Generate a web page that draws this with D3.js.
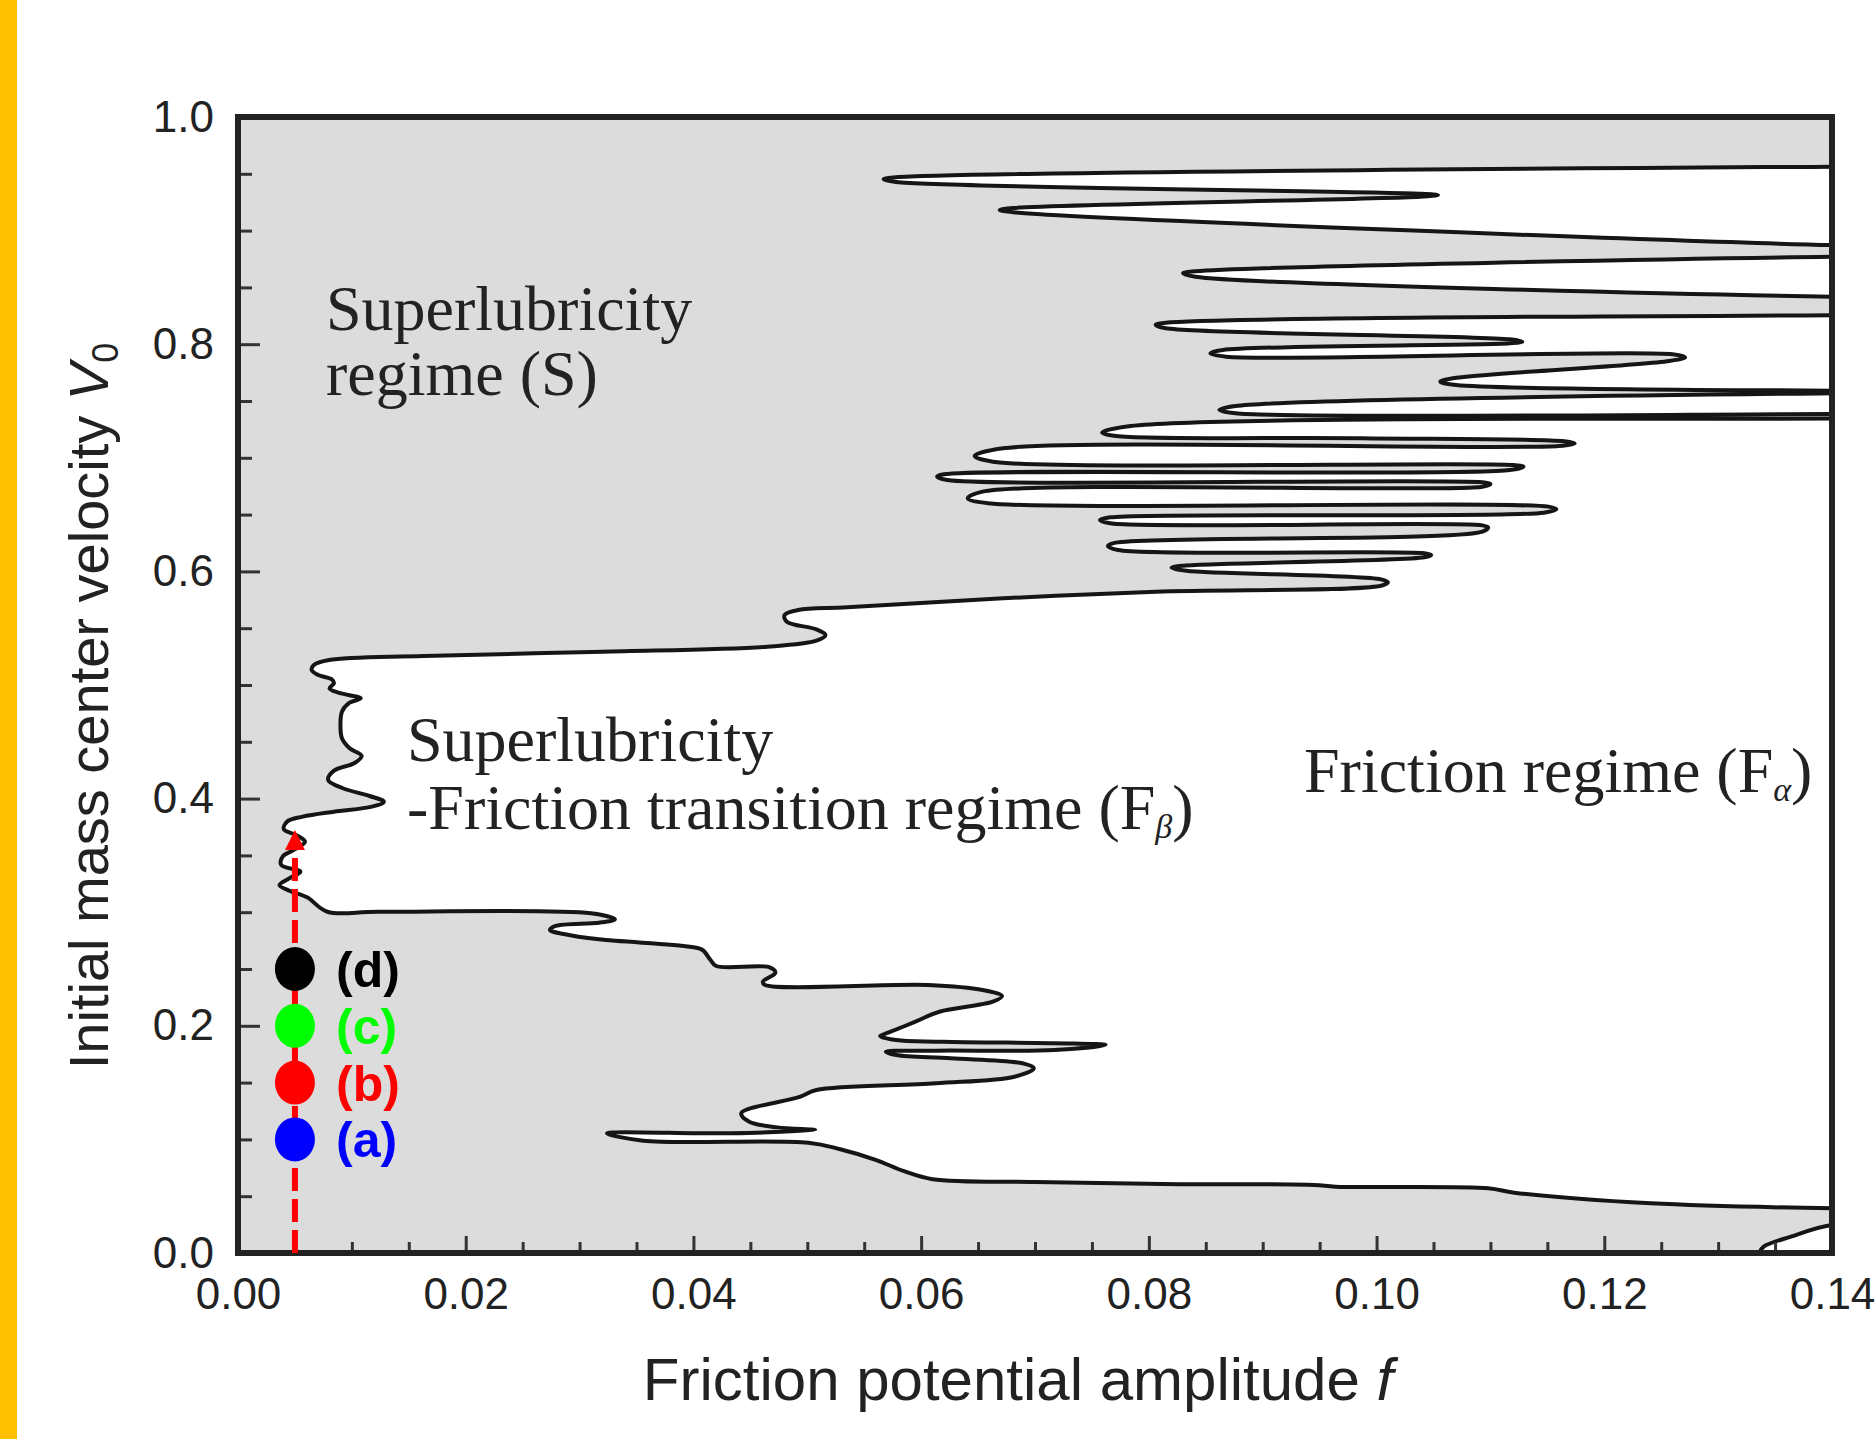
<!DOCTYPE html>
<html>
<head>
<meta charset="utf-8">
<script src="https://cdn.jsdelivr.net/npm/d3@7"></script>
<style>
  body { margin: 0; background: #fff; }
  svg text { fill: #222; }
</style>
</head>
<body>
<div id="chart"></div>
<script>
// boundary between the superlubricity (grey) and friction (white) regimes,
// traced from the top right down to the bottom right, as [f, V0]
var boundary = [
  [0.146, 0.9565], [0.1400, 0.9563], [0.0578, 0.9469], [0.0567, 0.9452], [0.0578, 0.9428],
  [0.1038, 0.9325], [0.1054, 0.9313], [0.1038, 0.9298], [0.0681, 0.9199], [0.0669, 0.9181],
  [0.0681, 0.9161], [0.1400, 0.8873], [0.146, 0.8872], [0.146, 0.8771], [0.1400, 0.8770],
  [0.0841, 0.8642], [0.0830, 0.8624], [0.0841, 0.8594], [0.1400, 0.8418], [0.146, 0.8417],
  [0.146, 0.8256], [0.1400, 0.8255], [0.0815, 0.8189], [0.0806, 0.8169], [0.0815, 0.8140],
  [0.1117, 0.8043], [0.1128, 0.8022], [0.1117, 0.8008], [0.0865, 0.7949], [0.0854, 0.7920],
  [0.0868, 0.7890], [0.1260, 0.7911], [0.1271, 0.7885], [0.1257, 0.7852], [0.1067, 0.7700],
  [0.1056, 0.7670], [0.1070, 0.7641], [0.1400, 0.7591], [0.146, 0.7590], [0.146, 0.7569],
  [0.1400, 0.7568], [0.0876, 0.7456], [0.0862, 0.7421], [0.0876, 0.7392], [0.1400, 0.7386],
  [0.146, 0.7385], [0.146, 0.7346], [0.1400, 0.7345], [0.0784, 0.7280], [0.0759, 0.7221],
  [0.0771, 0.7192], [0.0986, 0.7172], [0.1165, 0.7145], [0.1174, 0.7127], [0.1160, 0.7104],
  [0.0672, 0.7084], [0.0647, 0.7016], [0.0663, 0.6966], [0.1120, 0.6937], [0.1129, 0.6922],
  [0.1115, 0.6890], [0.0620, 0.6855], [0.0614, 0.6834], [0.0623, 0.6805], [0.1093, 0.6784],
  [0.1100, 0.6769], [0.1093, 0.6746], [0.0654, 0.6702], [0.0641, 0.6643], [0.0659, 0.6600],
  [0.1151, 0.6570], [0.1158, 0.6547], [0.1147, 0.6517], [0.0766, 0.6476], [0.0757, 0.6452],
  [0.0766, 0.6423], [0.1093, 0.6405], [0.1098, 0.6388], [0.1093, 0.6350], [0.0771, 0.6253],
  [0.0764, 0.6224], [0.0773, 0.6188], [0.1042, 0.6159], [0.1048, 0.6144], [0.1042, 0.6124],
  [0.0829, 0.6050], [0.0820, 0.6033], [0.0833, 0.6006], [0.1004, 0.5930], [0.1010, 0.5904],
  [0.1004, 0.5874], [0.0806, 0.5821], [0.0672, 0.5763], [0.0535, 0.5684], [0.0492, 0.5660],
  [0.0480, 0.5616], [0.0482, 0.5557], [0.0508, 0.5490], [0.0516, 0.5440], [0.0508, 0.5390],
  [0.0465, 0.5337], [0.0320, 0.5293], [0.0163, 0.5255], [0.0080, 0.5220], [0.00666, 0.5176],
  [0.00647, 0.5132], [0.00705, 0.5088], [0.00823, 0.5050], [0.00843, 0.5015], [0.00804, 0.4971],
  [0.00882, 0.4932], [0.01078, 0.4883], [0.0098, 0.4844], [0.00913, 0.4765], [0.0090, 0.4633],
  [0.00913, 0.4531], [0.0098, 0.4443], [0.01086, 0.4375], [0.0102, 0.4311], [0.00843, 0.4246],
  [0.00792, 0.4164], [0.00921, 0.4091], [0.01156, 0.4023], [0.01281, 0.3973], [0.01176, 0.3929],
  [0.00843, 0.3885], [0.00568, 0.3841], [0.0043, 0.3797], [0.00403, 0.3730], [0.00509, 0.3680],
  [0.00588, 0.3621], [0.0049, 0.3548], [0.00392, 0.3489], [0.0038, 0.3415], [0.00548, 0.3357],
  [0.0045, 0.3298], [0.00364, 0.3239], [0.0045, 0.3189], [0.00607, 0.3131], [0.00784, 0.3004],
  [0.01235, 0.3004], [0.0310, 0.2990], [0.0331, 0.2937], [0.0317, 0.2908], [0.0279, 0.2879],
  [0.0274, 0.2843], [0.0286, 0.2808], [0.0317, 0.2761], [0.0397, 0.2696], [0.0408, 0.2667],
  [0.0415, 0.2579], [0.0420, 0.2526], [0.0467, 0.2515], [0.0472, 0.2467], [0.0461, 0.2388],
  [0.0463, 0.2359], [0.0606, 0.2359], [0.0654, 0.2315], [0.0671, 0.2262], [0.0663, 0.2212],
  [0.0616, 0.2124], [0.0595, 0.2036], [0.0571, 0.1939], [0.0564, 0.1910], [0.0578, 0.1875],
  [0.0619, 0.1860], [0.0762, 0.1831], [0.0717, 0.1787], [0.0613, 0.1781], [0.0569, 0.1772],
  [0.0578, 0.1743], [0.0626, 0.1714], [0.0689, 0.1670], [0.0699, 0.1626], [0.0682, 0.1552],
  [0.0613, 0.1494], [0.0508, 0.1435], [0.0494, 0.1376], [0.0442, 0.1230], [0.0449, 0.1156],
  [0.0474, 0.1106], [0.0507, 0.1083], [0.0432, 0.1054], [0.0324, 0.1054], [0.0356, 0.0989],
  [0.0501, 0.0971], [0.0529, 0.0913], [0.0560, 0.0820], [0.0585, 0.0720], [0.0610, 0.0650],
  [0.0700, 0.0625], [0.0812, 0.0607], [0.0945, 0.0599], [0.0964, 0.0584], [0.1098, 0.0570],
  [0.1121, 0.0531], [0.1241, 0.0437], [0.1400, 0.0393], [0.146, 0.0390], [0.146, 0.0250],
  [0.1400, 0.0246], [0.1364, 0.0144], [0.1340, 0.0056], [0.1336, 0.0], [0.1334, -0.01]
];
// closes the friction-regime polygon outside the plot frame
var closure = [[0.16, -0.02], [0.16, 0.97], [0.146, 0.97]];

var xTicks = [0, 0.02, 0.04, 0.06, 0.08, 0.10, 0.12, 0.14];
var yTicks = [0, 0.2, 0.4, 0.6, 0.8, 1.0];

// simulation points marked on the f = 0.005 line
var dotF = 0.005;
var dotV = [0.10, 0.15, 0.20, 0.25];
var dotLabels = ["(a)", "(b)", "(c)", "(d)"];
var dotColors = ["#0000ff", "#ff0000", "#00ff00", "#000000"];
var arrowV = [0.0, 0.3548, 0.3724];   // dashed line start, arrow base, arrow tip

var width = 1875, height = 1439;
var margin = { top: 117, right: 43, bottom: 186, left: 238 };

var svg = d3.select("#chart").append("svg")
    .attr("width", width)
    .attr("height", height)
    .style("font-family", "'Liberation Sans', Arial, sans-serif");

// yellow strip on the left edge
svg.append("rect")
    .attr("x", 0).attr("y", 0)
    .attr("width", 17).attr("height", height)
    .attr("fill", "#ffc000");

var x = d3.scaleLinear().domain([0, 0.14]).range([margin.left, width - margin.right]);
var y = d3.scaleLinear().domain([0, 1]).range([height - margin.bottom, margin.top]);

svg.append("clipPath").attr("id", "plotclip")
    .append("rect")
    .attr("x", x(0)).attr("y", y(1))
    .attr("width", x(0.14) - x(0)).attr("height", y(0) - y(1));

var plot = svg.append("g").attr("clip-path", "url(#plotclip)");

// superlubricity background
plot.append("rect")
    .attr("x", x(0)).attr("y", y(1))
    .attr("width", x(0.14) - x(0)).attr("height", y(0) - y(1))
    .attr("fill", "#dcdcdc");

var line = d3.line()
    .x(function (d) { return x(d[0]); })
    .y(function (d) { return y(d[1]); })
    .curve(d3.curveCatmullRom.alpha(0.5));

var closePath = closure.map(function (d) { return "L" + x(d[0]) + "," + y(d[1]); }).join("") + "Z";

// friction regime
plot.append("path")
    .attr("d", line(boundary) + closePath)
    .attr("fill", "#ffffff");

plot.append("path")
    .attr("d", line(boundary))
    .attr("fill", "none")
    .attr("stroke", "#151515")
    .attr("stroke-width", 4)
    .attr("stroke-linejoin", "round");

// axes, ticks pointing inwards
var xMinor = d3.range(0.005, 0.14, 0.005).filter(function (v) { return Math.abs(v / 0.02 - Math.round(v / 0.02)) > 1e-6; });
var yMinor = d3.range(0.05, 1.0, 0.05).filter(function (v) { return Math.abs(v / 0.2 - Math.round(v / 0.2)) > 1e-6; });

svg.append("g")
    .attr("transform", "translate(0," + y(0) + ")")
    .call(d3.axisBottom(x).tickValues(xMinor).tickSize(-11).tickFormat(""))
    .call(function (g) { g.select(".domain").remove(); });

svg.append("g")
    .attr("class", "xaxis")
    .attr("transform", "translate(0," + y(0) + ")")
    .call(d3.axisBottom(x).tickValues(xTicks).tickSize(-17).tickPadding(25).tickFormat(d3.format(".2f")))
    .call(function (g) { g.select(".domain").remove(); });

svg.append("g")
    .attr("transform", "translate(" + x(0) + ",0)")
    .call(d3.axisLeft(y).tickValues(yMinor).tickSize(-14).tickFormat(""))
    .call(function (g) { g.select(".domain").remove(); });

svg.append("g")
    .attr("class", "yaxis")
    .attr("transform", "translate(" + x(0) + ",0)")
    .call(d3.axisLeft(y).tickValues(yTicks).tickSize(-22).tickPadding(24).tickFormat(d3.format(".1f")))
    .call(function (g) { g.select(".domain").remove(); });

svg.selectAll(".tick line").attr("stroke", "#333").attr("stroke-width", 3);
svg.selectAll(".xaxis text, .yaxis text")
    .style("font-size", "44px")
    .style("font-family", "'Liberation Sans', Arial, sans-serif")
    .attr("fill", "#333");

// plot frame
svg.append("rect")
    .attr("x", x(0)).attr("y", y(1))
    .attr("width", x(0.14) - x(0)).attr("height", y(0) - y(1))
    .attr("fill", "none")
    .attr("stroke", "#222")
    .attr("stroke-width", 6);

// axis titles
var xt = svg.append("text")
    .attr("x", 1018).attr("y", 1400)
    .attr("text-anchor", "middle")
    .style("font-size", "60px");
xt.append("tspan").text("Friction potential amplitude ");
xt.append("tspan").style("font-style", "italic").text("f");

var yt = svg.append("text")
    .attr("transform", "translate(108,706) rotate(-90)")
    .attr("text-anchor", "middle")
    .style("font-size", "56px");
yt.append("tspan").text("Initial mass center velocity ");
yt.append("tspan").style("font-style", "italic").text("V");
yt.append("tspan").attr("dy", 10).style("font-size", "36px").text("0");

// regime labels, each one text block with its lines as tspans
var serif = "'Liberation Serif', 'Times New Roman', serif";
function regimeLabel(xp, yp, lines, lineGap) {
    var t = svg.append("text")
        .attr("x", xp).attr("y", yp)
        .style("font-family", serif)
        .style("font-size", "64px")
        .attr("fill", "#1a1a1a");
    lines.forEach(function (parts, li) {
        parts.forEach(function (p, pi) {
            var s = t.append("tspan").text(p.t);
            if (pi === 0 && li > 0) s.attr("x", xp).attr("dy", lineGap);
            if (p.sub) s.attr("dy", 9).style("font-size", "34px").style("font-style", "italic");
            if (p.up) s.attr("dy", -9);
        });
    });
}
regimeLabel(326, 330, [[{ t: "Superlubricity" }], [{ t: "regime (S)" }]], 65);
regimeLabel(407, 761, [[{ t: "Superlubricity" }],
    [{ t: "-Friction transition regime (F" }, { t: "\u03b2", sub: true }, { t: ")", up: true }]], 68);
regimeLabel(1304, 792, [[{ t: "Friction regime (F" }, { t: "\u03b1", sub: true }, { t: ")", up: true }]], 0);

// dashed scan line with arrow head
svg.append("line")
    .attr("x1", x(dotF)).attr("x2", x(dotF))
    .attr("y1", y(arrowV[0])).attr("y2", y(arrowV[1]))
    .attr("stroke", "#ff0000")
    .attr("stroke-width", 6)
    .attr("stroke-dasharray", "23,8");

svg.append("path")
    .attr("d", "M" + (x(dotF) - 10) + "," + y(arrowV[1]) +
               "L" + (x(dotF) + 10) + "," + y(arrowV[1]) +
               "L" + x(dotF) + "," + y(arrowV[2]) + "Z")
    .attr("fill", "#ff0000");

svg.selectAll(".dot")
    .data(dotV)
    .join("ellipse")
    .attr("class", "dot")
    .attr("cx", x(dotF))
    .attr("cy", function (d) { return y(d); })
    .attr("rx", 20).attr("ry", 22)
    .attr("fill", function (d, i) { return dotColors[i]; });

svg.selectAll(".dotlabel")
    .data(dotV)
    .join("text")
    .attr("class", "dotlabel")
    .attr("x", 336)
    .attr("y", function (d) { return y(d) + 18; })
    .style("font-size", "50px")
    .style("font-weight", "bold")
    .style("fill", function (d, i) { return dotColors[i]; })
    .text(function (d, i) { return dotLabels[i]; });
</script>
</body>
</html>
